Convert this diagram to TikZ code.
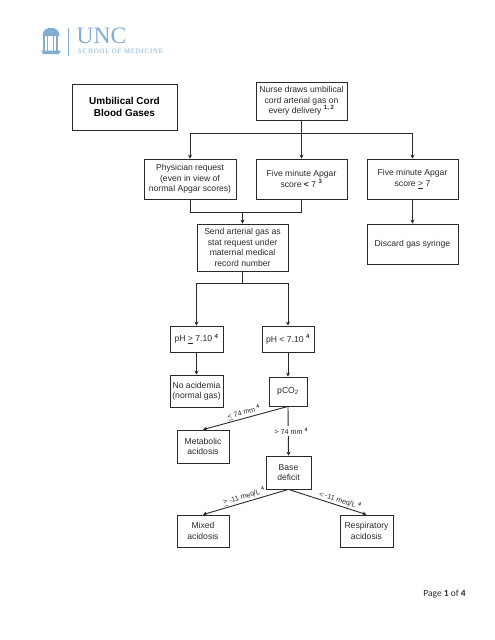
\documentclass[tikz,border=0pt]{standalone}
\usepackage{fontspec}
\setmainfont{Liberation Sans}
\newfontfamily\logofont{Liberation Serif}
\newfontfamily\logowide[LetterSpace=12]{Liberation Serif}
\newfontfamily\pagefont{Carlito}
\usetikzlibrary{arrows.meta,positioning,calc}
\definecolor{deepgray}{HTML}{2A2A2A}
\definecolor{logoblue}{HTML}{7FAED0}
\begin{document}
\begin{tikzpicture}[
    x=1pt, y=-1pt,
    >=Stealth,
    stepbox/.style={
      draw=deepgray, line width=0.85pt, align=center, inner sep=0pt,
      font=\fontsize{8.6}{10.4}\selectfont, text=deepgray,
    },
    titlebox/.style={
      stepbox, font=\fontsize{10}{12}\selectfont\bfseries, text=black,
    },
    flow/.style={
      -{Stealth[length=4pt,width=4pt]}, line width=0.9pt, deepgray,
    },
    plainflow/.style={
      line width=0.9pt, deepgray,
    },
    edgelabel/.style={
      font=\fontsize{7.2}{8}\selectfont, text=deepgray, inner sep=0pt,
    },
  ]
  \useasboundingbox (0,0) rectangle (495,640);

  % =================== Logo ===================
  \fill[logoblue] (41,50.5) -- (61,50.5) -- (59,54) -- (43,54) -- cycle;
  \fill[logoblue] (42.5,36) .. controls (43,29) and (47,28) .. (51,28)
    .. controls (55,28) and (59,29) .. (59.5,36) -- cycle;
  \foreach \px in {44,47.5,53.5,57}
    \draw[logoblue, line width=1.1pt] (\px,36) -- (\px,50.5);
  \draw[logoblue, line width=0.5pt] (68.5,28) -- (68.5,55.5);
  \node[logoblue, font=\logofont\fontsize{23.5}{23.5}\selectfont, inner sep=0pt, anchor=west] (unc) at (76.5,36) {UNC};
  \node[logoblue, font=\logowide\fontsize{6.8}{7}\selectfont, inner sep=0pt, anchor=west] (som) at (78,51) {SCHOOL OF MEDICINE};

  % =================== Title ===================
  \node[titlebox, minimum width=105pt, minimum height=46pt] (title) at (124.5,107) {Umbilical Cord\\Blood Gases};

  % =================== Top row ===================
  \node[stepbox, minimum width=91pt, minimum height=38pt] (nurse) at (301.5,101) {Nurse draws umbilical\\cord arterial gas on\\every delivery \textsuperscript{\bfseries 1, 2}};
  \node[stepbox, minimum width=92pt, minimum height=40pt] (phys) at (190,179) {Physician request\\(even in view of\\normal Apgar scores)};
  \node[stepbox, minimum width=91pt, minimum height=40pt] (low) at (301.5,179) {Five minute Apgar\\score \textbf{<} 7 \textsuperscript{\bfseries 3}};
  \node[stepbox, minimum width=91pt, minimum height=40pt] (high) at (412.5,179) {Five minute Apgar\\score \underline{>} 7};

  % =================== Second row ===================
  \node[stepbox, minimum width=91pt, minimum height=47pt] (send) at (242.5,247.5) {Send arterial gas as\\stat request under\\maternal medical\\record number};
  \node[stepbox, minimum width=91pt, minimum height=40pt] (discard) at (412.5,244) {Discard gas syringe};

  % =================== pH ===================
  \node[stepbox, minimum width=53pt, minimum height=26pt] (phok) at (196.5,339) {pH \underline{>} 7.10 \textsuperscript{\bfseries 4}};
  \node[stepbox, minimum width=52pt, minimum height=26pt] (phlow) at (288,339) {pH < 7.10 \textsuperscript{\bfseries 4}};
  \node[stepbox, minimum width=53pt, minimum height=32pt] (none) at (196.5,391) {No acidemia\\(normal gas)};
  \node[stepbox, minimum width=38pt, minimum height=29pt] (pco) at (288,391.5) {pCO\textsubscript{2}};

  % =================== Acidosis ===================
  \node[stepbox, minimum width=52pt, minimum height=33pt] (metab) at (203,446.5) {Metabolic\\acidosis};
  \node[stepbox, minimum width=45pt, minimum height=33pt] (base) at (288.5,472.5) {Base\\deficit};
  \node[stepbox, minimum width=52pt, minimum height=32pt] (mixed) at (203,531) {Mixed\\acidosis};
  \node[stepbox, minimum width=53pt, minimum height=32pt] (resp) at (366.5,531) {Respiratory\\acidosis};

  % Nurse to first row
  \coordinate (split) at (nurse.south |- 0,133);
  \draw[plainflow] (nurse) -- (split);
  \draw[flow] (split) -| (phys.north);
  \draw[flow] (split) -- (low.north);
  \draw[flow] (split) -| (high.north);

  % First row to send
  \coordinate (merge) at (send.north |- 0,212);
  \draw[plainflow] (phys.south) |- (merge);
  \draw[plainflow] (low.south) |- (merge);
  \draw[flow] (merge) -- (send.north);
  \draw[flow] (high) -- (discard);

  % Send to pH
  \coordinate (fork) at (send.south |- 0,283);
  \draw[plainflow] (send) -- (fork);
  \draw[flow] (fork) -| (phok.north);
  \draw[flow] (fork) -| (phlow.north);
  \draw[flow] (phok) -- (none);
  \draw[flow] (phlow) -- (pco);

  % Lower branches
  \draw[flow] (pco.south) -- (metab.north)
    node[midway, above, sloped, edgelabel, yshift=1pt] {\underline{<} 74 mm \textsuperscript{\bfseries 4}};
  \draw[flow] (pco.south) -- (base.north)
    node[midway, fill=white, edgelabel, inner xsep=1pt, inner ysep=2pt, xshift=3pt] {> 74 mm \textsuperscript{\bfseries 4}};
  \draw[flow] (base.south) -- (mixed.north)
    node[midway, above, sloped, edgelabel, yshift=1pt] {\underline{>} -11 meq/L \textsuperscript{\bfseries 4}};
  \draw[flow] (base.south) -- (resp.north)
    node[pos=0.64, above, sloped, edgelabel, yshift=1pt] {< -11 meq/L \textsuperscript{\bfseries 4}};

  % Page number
  \node[font=\pagefont\fontsize{9.5}{11}\selectfont, text=deepgray, inner sep=0pt, anchor=east] (pagenum) at (466,594.5) {Page \textbf{1} of \textbf{4}};

\end{tikzpicture}
\end{document}
